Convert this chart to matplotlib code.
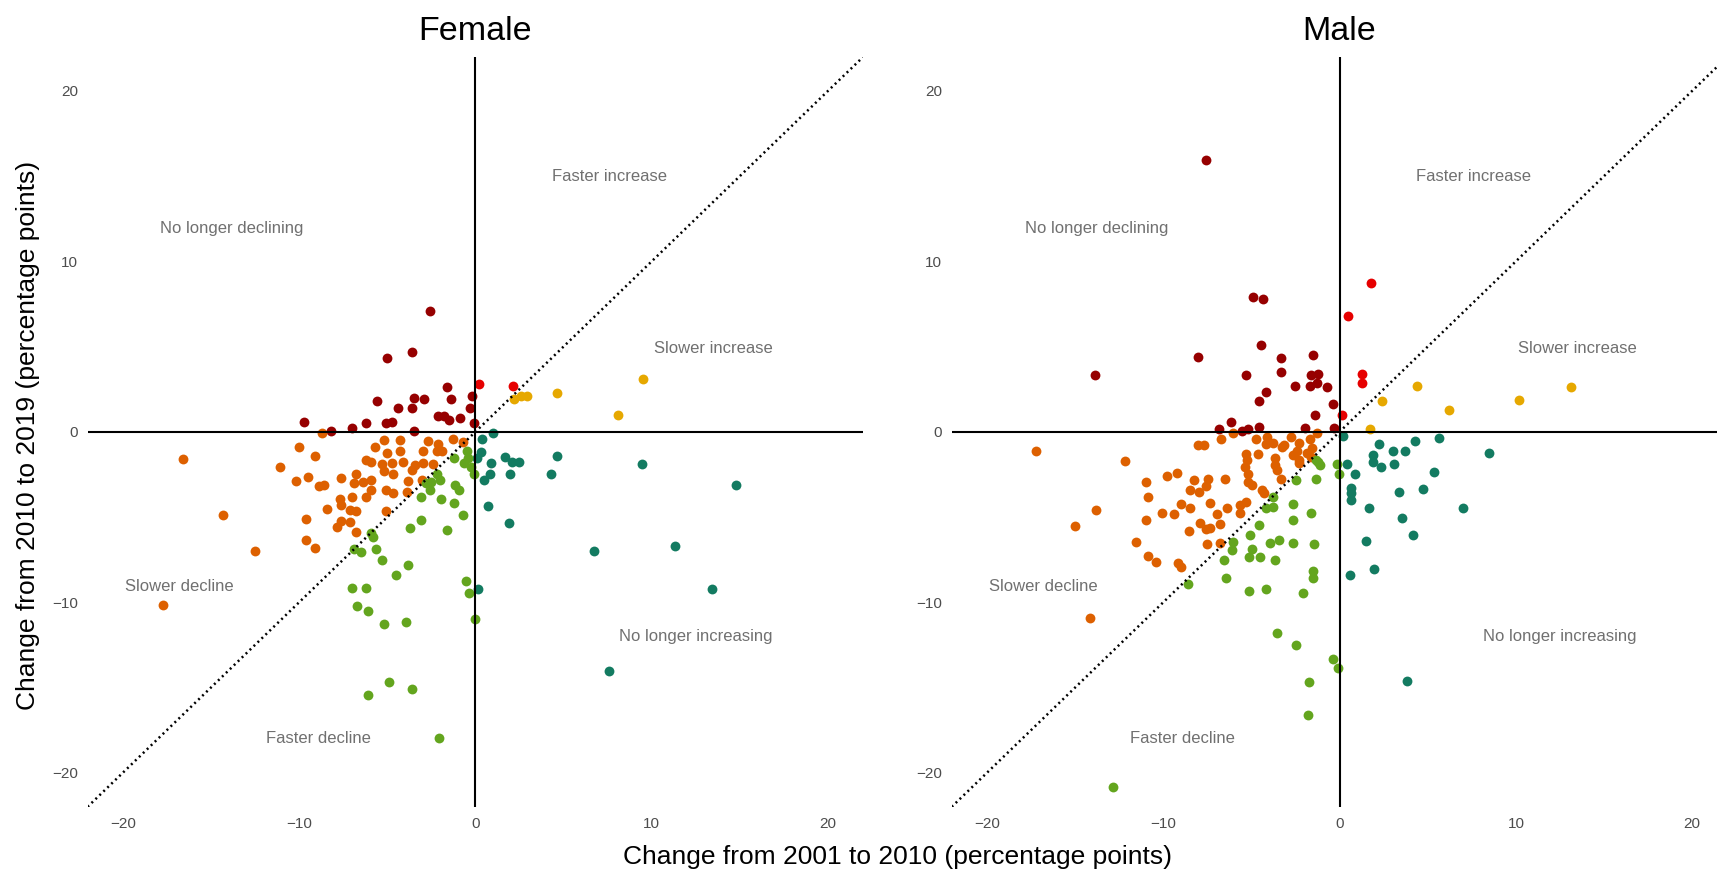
import numpy as np
import matplotlib
matplotlib.use("Agg")
import matplotlib.pyplot as plt

plt.rcParams['font.family'] = ['Liberation Sans', 'DejaVu Sans']

# --- data: (change 2001-2010, change 2010-2019) in percentage points ---
female_no_longer_declining = [
    (-2.6, 7.1), (-3.6, 4.7), (-5.0, 4.3), (-1.6, 2.6), (-1.4, 1.9), (-0.2, 2.1),
    (-0.3, 1.4), (-3.5, 2.0), (-2.9, 1.9), (-5.6, 1.8), (-4.4, 1.4), (-3.6, 1.4),
    (-2.1, 0.9), (-1.8, 0.9), (-1.5, 0.7), (-0.9, 0.8), (-0.1, 0.5), (-9.7, 0.55),
    (-8.2, 0.05), (-7.0, 0.25), (-6.2, 0.5), (-5.1, 0.5), (-4.75, 0.6), (-3.5, 0.05)]
female_faster_increase = [(0.2, 2.8), (2.15, 2.7)]
female_slower_increase = [(2.2, 1.9), (2.6, 2.1), (2.9, 2.1), (4.6, 2.3), (9.5, 3.1), (8.1, 1.0)]
female_no_longer_increasing = [
    (1.0, -0.06), (0.35, -0.45), (0.3, -1.2), (0.1, -1.55), (0.9, -1.85), (1.65, -1.45),
    (2.1, -1.8), (2.45, -1.75), (4.6, -1.4), (0.8, -2.45), (0.5, -2.8), (1.95, -2.5),
    (4.3, -2.5), (9.45, -1.9), (14.8, -3.15), (0.7, -4.35), (1.9, -5.35), (6.7, -7.0),
    (11.3, -6.7), (13.4, -9.2), (0.15, -9.2), (7.55, -14.05)]
female_slower_decline = [
    (-16.6, -1.6), (-14.3, -4.9), (-12.5, -7.0), (-11.1, -2.05), (-10.0, -0.9), (-9.1, -1.4),
    (-8.7, -0.1), (-10.2, -2.9), (-9.5, -2.65), (-8.9, -3.2), (-8.6, -3.15), (-9.6, -5.1),
    (-9.6, -6.35), (-9.1, -6.8), (-8.4, -4.55), (-7.7, -3.95), (-7.6, -4.3), (-7.6, -2.7),
    (-7.0, -3.85), (-7.1, -4.6), (-6.75, -4.65), (-7.65, -5.25), (-7.85, -5.6), (-7.1, -5.3),
    (-6.8, -5.9), (-6.8, -2.45), (-6.9, -3.0), (-6.4, -2.95), (-5.9, -2.85), (-6.2, -3.8),
    (-5.9, -3.4), (-6.2, -1.65), (-5.9, -1.75), (-5.7, -0.9), (-5.2, -0.5), (-4.3, -0.5),
    (-4.3, -1.1), (-5.0, -1.25), (-5.3, -1.9), (-4.75, -1.85), (-4.65, -2.45), (-4.1, -1.8),
    (-3.4, -1.95), (-3.6, -2.25), (-3.0, -1.85), (-2.95, -1.15), (-2.7, -0.55), (-2.4, -1.9),
    (-2.1, -0.7), (-1.9, -1.15), (-2.2, -1.15), (-1.25, -0.45), (-0.7, -0.6), (-3.8, -2.9),
    (-3.05, -2.85), (-5.1, -3.4), (-4.65, -3.6), (-3.9, -3.55), (-5.1, -4.65), (-5.2, -2.3),
    (-17.7, -10.15)]
female_faster_decline = [
    (-1.2, -1.55), (-0.5, -1.15), (-0.4, -1.55), (-0.65, -1.85), (-0.27, -2.05), (-0.07, -2.5),
    (-2.2, -2.5), (-2.0, -2.85), (-2.5, -2.95), (-2.8, -3.0), (-2.6, -3.4), (-3.1, -3.85),
    (-1.95, -3.95), (-1.15, -3.15), (-0.95, -3.4), (-1.2, -4.15), (-0.7, -4.9), (-3.1, -5.15),
    (-3.7, -5.65), (-1.6, -5.75), (-5.9, -5.95), (-5.8, -6.2), (-6.9, -6.85), (-6.5, -7.05),
    (-5.65, -6.85), (-5.3, -7.5), (-3.8, -7.8), (-4.5, -8.4), (-7.0, -9.15), (-6.2, -9.15),
    (-0.55, -8.75), (-0.35, -9.45), (-6.7, -10.2), (-6.1, -10.5), (-5.2, -11.3), (-3.95, -11.15),
    (-0.05, -11.0), (-4.9, -14.7), (-3.6, -15.1), (-6.1, -15.45), (-2.05, -17.95)]

male_no_longer_declining = [
    (-7.55, 15.95), (-13.9, 3.35), (-8.05, 4.4), (-4.9, 7.9), (-4.35, 7.8), (-4.45, 5.1),
    (-3.35, 4.3), (-1.5, 4.5), (-5.3, 3.35), (-3.35, 3.5), (-1.65, 3.35), (-1.2, 3.4),
    (-1.7, 2.7), (-1.3, 2.85), (-2.55, 2.7), (-0.7, 2.6), (-4.2, 2.35), (-4.6, 1.8),
    (-0.35, 1.65), (-1.4, 1.0), (-6.15, 0.55), (-6.85, 0.15), (-5.55, 0.05), (-5.2, 0.15),
    (-4.6, 0.3), (-1.95, 0.25), (-0.3, 0.25)]
male_faster_increase = [(1.8, 8.7), (0.45, 6.8), (1.25, 3.4), (1.25, 2.85), (0.15, 1.0)]
male_slower_increase = [(4.4, 2.7), (2.4, 1.8), (6.2, 1.25), (10.2, 1.85), (13.15, 2.65), (1.75, 0.15)]
male_no_longer_increasing = [
    (0.2, -0.25), (2.25, -0.7), (1.9, -1.35), (1.9, -1.75), (2.35, -2.05), (3.05, -1.15),
    (3.7, -1.15), (4.3, -0.55), (5.65, -0.35), (8.5, -1.25), (3.1, -1.9), (0.4, -1.9),
    (0.85, -2.5), (5.35, -2.35), (0.65, -3.3), (0.65, -3.6), (0.65, -4.0), (3.35, -3.55),
    (4.75, -3.35), (1.65, -4.5), (7.0, -4.45), (3.55, -5.05), (4.15, -6.05), (1.5, -6.4),
    (1.95, -8.05), (0.6, -8.4), (3.8, -14.6)]
male_slower_decline = [
    (-17.2, -1.1), (-12.15, -1.7), (-13.8, -4.6), (-15.0, -5.5), (-14.15, -10.95), (-11.0, -2.95),
    (-10.85, -3.85), (-11.0, -5.2), (-11.55, -6.45), (-10.85, -7.3), (-10.4, -7.65), (-9.15, -7.7),
    (-9.0, -7.95), (-10.05, -4.75), (-9.4, -4.8), (-9.8, -2.6), (-9.25, -2.4), (-9.0, -4.25),
    (-8.5, -4.45), (-8.55, -5.8), (-8.25, -2.85), (-8.5, -3.4), (-8.0, -3.55), (-7.55, -3.2),
    (-7.45, -2.75), (-8.05, -0.8), (-7.7, -0.75), (-6.7, -0.45), (-6.05, -0.1), (-6.5, -2.75),
    (-7.35, -4.2), (-6.95, -4.8), (-6.4, -4.45), (-6.8, -5.4), (-7.9, -5.35), (-7.6, -5.7),
    (-7.35, -5.65), (-7.5, -6.6), (-6.8, -6.5), (-5.3, -1.3), (-5.25, -1.65), (-5.35, -2.05),
    (-5.2, -2.45), (-5.2, -2.95), (-4.95, -3.1), (-4.65, -1.3), (-4.4, -3.4), (-4.3, -3.6),
    (-5.65, -4.3), (-5.3, -4.1), (-5.65, -4.75), (-4.75, -0.45), (-4.2, -0.7), (-4.1, -0.3),
    (-3.75, -0.65), (-3.25, -0.9), (-3.65, -1.55), (-3.65, -1.95), (-3.55, -2.25), (-3.35, -2.75),
    (-2.75, -0.3), (-2.65, -1.35), (-2.3, -0.65), (-2.4, -1.15), (-2.3, -1.65), (-2.3, -1.85),
    (-1.85, -1.25), (-1.7, -0.45), (-1.55, -0.95), (-1.65, -1.45), (-1.3, -0.05), (-3.15, -0.8)]
male_faster_decline = [
    (-1.35, -1.65), (-1.2, -1.8), (-1.1, -1.95), (-0.15, -1.9), (-0.02, -2.5), (-1.35, -2.75),
    (-1.6, -4.75), (-1.45, -6.6), (-1.5, -8.15), (-1.5, -8.6), (-2.05, -9.45), (-0.4, -13.3),
    (-0.1, -13.85), (-1.75, -14.65), (-2.5, -2.85), (-3.75, -3.8), (-4.2, -4.5), (-3.75, -4.4),
    (-2.65, -4.25), (-2.65, -5.2), (-4.6, -5.45), (-5.1, -6.05), (-6.05, -6.45), (-6.1, -6.95),
    (-4.95, -6.85), (-3.95, -6.5), (-3.45, -6.35), (-2.65, -6.5), (-5.15, -7.35), (-4.5, -7.35),
    (-3.65, -7.5), (-6.55, -7.55), (-6.45, -8.6), (-8.6, -8.95), (-5.15, -9.35), (-4.15, -9.2),
    (-3.55, -11.8), (-2.5, -12.5), (-1.8, -16.6), (-12.85, -20.85)]

categories = ["No longer declining", "Faster increase", "Slower increase",
              "No longer increasing", "Slower decline", "Faster decline"]
colors = ["#960000", "#E60000", "#E6A800", "#137B61", "#DD6000", "#63A51E"]

panels = {
    "Female": [female_no_longer_declining, female_faster_increase, female_slower_increase,
               female_no_longer_increasing, female_slower_decline, female_faster_decline],
    "Male": [male_no_longer_declining, male_faster_increase, male_slower_increase,
             male_no_longer_increasing, male_slower_decline, male_faster_decline],
}

# label positions for the quadrant annotations
label_pos = {
    "Faster increase": (7.6, 15.0),
    "No longer declining": (-13.8, 11.9),
    "Slower increase": (13.5, 4.9),
    "Slower decline": (-16.8, -9.05),
    "No longer increasing": (12.5, -12.0),
    "Faster decline": (-8.9, -18.0),
}

fig = plt.figure(figsize=(17.17, 8.73), dpi=100)
ax_rects = {"Female": [0.0510, 0.0758, 0.4518, 0.8592],
            "Male": [0.5543, 0.0758, 0.4518, 0.8592]}

for name, groups in panels.items():
    ax = fig.add_axes(ax_rects[name])
    for pts, c in zip(groups, colors):
        arr = np.array(pts)
        ax.scatter(arr[:, 0], arr[:, 1], s=50, color=c, linewidths=0, zorder=2)
    ax.axhline(0, color='black', lw=1.5, zorder=3)
    ax.axvline(0, color='black', lw=1.5, zorder=3)
    ax.plot([-22, 22], [-22, 22], color='black', lw=1.8, dashes=(0.8, 1.4), zorder=3)
    for lab, (tx, ty) in label_pos.items():
        ax.text(tx, ty, lab, ha='center', va='center', fontsize=12, color='#707070')
    ax.set_xlim(-22, 22)
    ax.set_ylim(-22, 22)
    ax.set_xticks([-20, -10, 0, 10, 20])
    ax.set_yticks([-20, -10, 0, 10, 20])
    ax.tick_params(length=0, labelsize=11, labelcolor='#4d4d4d', pad=7)
    for sp in ax.spines.values():
        sp.set_visible(False)
    ax.set_title(name, fontsize=24.5, pad=12)

fig.text(0.0163, 0.5017, "Change from 2010 to 2019 (percentage points)",
         rotation=90, ha='center', va='center', fontsize=19)
fig.text(0.523, 0.0183, "Change from 2001 to 2010 (percentage points)",
         ha='center', va='center', fontsize=19)

fig.savefig("out.png", dpi=100)
